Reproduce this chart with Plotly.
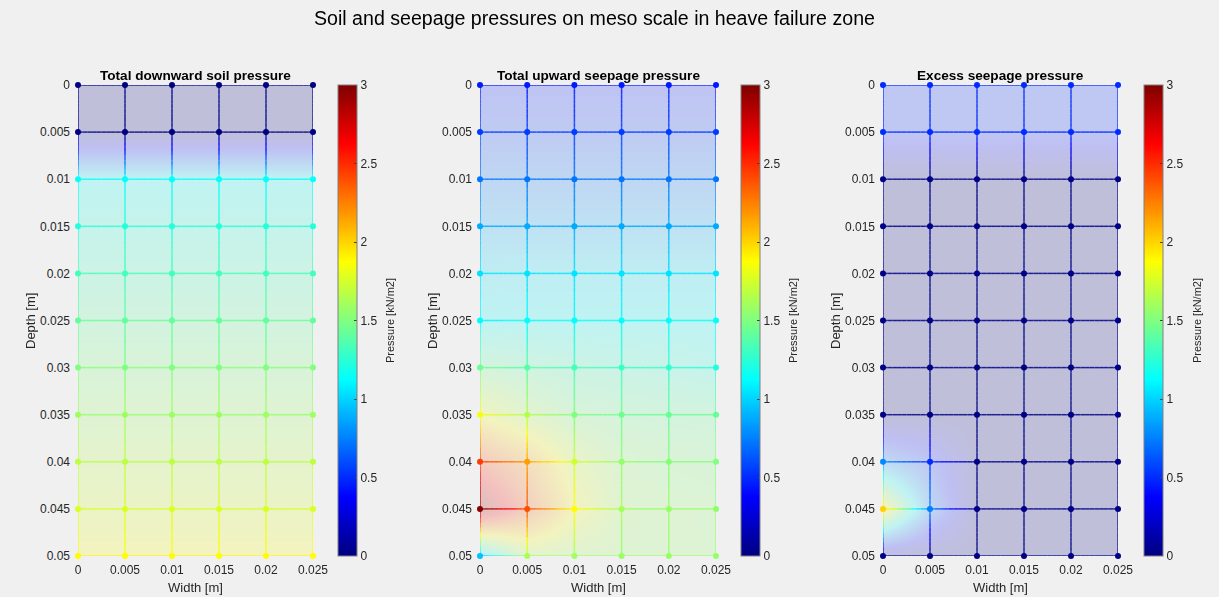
import plotly.graph_objects as go

W, H = 1226, 603

# ---------------- data ----------------
width_m = [0, 0.005, 0.01, 0.015, 0.02, 0.025]
depth_m = [0, 0.005, 0.01, 0.015, 0.02, 0.025, 0.03, 0.035, 0.04, 0.045, 0.05]
width_tick_labels = ["0", "0.005", "0.01", "0.015", "0.02", "0.025"]
depth_tick_labels = ["0", "0.005", "0.01", "0.015", "0.02", "0.025",
                     "0.03", "0.035", "0.04", "0.045", "0.05"]
cbar_ticks = [0, 0.5, 1, 1.5, 2, 2.5, 3]
cbar_tick_labels = ["0", "0.5", "1", "1.5", "2", "2.5", "3"]

# rows = depth, cols = width  (kN/m2)
soil_downward = [
    [0.00, 0.00, 0.00, 0.00, 0.00, 0.00],
    [0.00, 0.00, 0.00, 0.00, 0.00, 0.00],
    [1.14, 1.14, 1.14, 1.14, 1.14, 1.14],
    [1.23, 1.23, 1.23, 1.23, 1.23, 1.23],
    [1.32, 1.32, 1.32, 1.32, 1.32, 1.32],
    [1.41, 1.41, 1.41, 1.41, 1.41, 1.41],
    [1.50, 1.50, 1.50, 1.50, 1.50, 1.50],
    [1.59, 1.59, 1.59, 1.59, 1.59, 1.59],
    [1.68, 1.68, 1.68, 1.68, 1.68, 1.68],
    [1.77, 1.77, 1.77, 1.77, 1.77, 1.77],
    [1.88, 1.88, 1.88, 1.88, 1.88, 1.88],
]
seepage_upward = [
    [0.45, 0.45, 0.45, 0.45, 0.45, 0.45],
    [0.55, 0.55, 0.55, 0.55, 0.55, 0.55],
    [0.72, 0.72, 0.72, 0.72, 0.72, 0.72],
    [0.88, 0.88, 0.88, 0.88, 0.88, 0.88],
    [1.04, 1.05, 1.05, 1.05, 1.05, 1.05],
    [1.12, 1.13, 1.13, 1.13, 1.13, 1.13],
    [1.45, 1.38, 1.33, 1.30, 1.27, 1.22],
    [1.85, 1.65, 1.50, 1.45, 1.43, 1.42],
    [2.45, 2.16, 1.74, 1.56, 1.52, 1.50],
    [2.97, 2.39, 1.88, 1.60, 1.57, 1.55],
    [0.95, 1.63, 1.60, 1.58, 1.57, 1.56],
]
seepage_excess = [
    [0.50, 0.50, 0.50, 0.50, 0.50, 0.50],
    [0.50, 0.50, 0.50, 0.50, 0.50, 0.50],
    [0.02, 0.02, 0.02, 0.02, 0.02, 0.02],
    [0.02, 0.02, 0.02, 0.02, 0.02, 0.02],
    [0.02, 0.02, 0.02, 0.02, 0.02, 0.02],
    [0.02, 0.02, 0.02, 0.02, 0.02, 0.02],
    [0.02, 0.02, 0.02, 0.02, 0.02, 0.02],
    [0.02, 0.02, 0.02, 0.02, 0.02, 0.02],
    [0.78, 0.50, 0.02, 0.02, 0.02, 0.02],
    [2.01, 0.75, 0.02, 0.02, 0.02, 0.02],
    [0.02, 0.02, 0.02, 0.02, 0.02, 0.02],
]
panel_titles = ["Total downward soil pressure", "Total upward seepage pressure",
                "Excess seepage pressure"]
panels = [soil_downward, seepage_upward, seepage_excess]
CMIN, CMAX = 0.0, 3.0

# ---------------- style ----------------
FONT = "Liberation Sans, Arial, sans-serif"
TXT = "#262626"
# pixel geometry of the three axes boxes
ax_px = [(78, 313), (480, 716), (883, 1118)]
ax_top, ax_bot = 85, 556
cb_left = [338, 741, 1144]
cb_title_x = [390, 793, 1197]
ylab_x = [30, 432, 835]


def clamp(v):
    return max(0.0, min(1.0, v))


def jet(t):
    r = clamp(min(4 * t - 1.5, -4 * t + 4.5))
    g = clamp(min(4 * t - 0.5, -4 * t + 3.5))
    b = clamp(min(4 * t + 0.5, -4 * t + 2.5))
    return "rgb(%d,%d,%d)" % (round(r * 255), round(g * 255), round(b * 255))


NCS = 64
jet_scale = [[i / NCS, jet(i / NCS)] for i in range(NCS + 1)]

fig = go.Figure()

# background frame (figure grey)
fig.add_shape(type="rect", xref="paper", yref="paper",
              x0=0, x1=1219 / W, y0=1 - 597 / H, y1=1,
              fillcolor="#f0f0f0", line=dict(width=0), layer="below")

NSUB = 10
for p, vals in enumerate(panels):
    ax = "" if p == 0 else str(p + 1)
    xref, yref = "x" + ax, "y" + ax
    cax = "coloraxis" + ax

    # interpolated translucent fill
    fig.add_trace(go.Heatmap(x=width_m, y=depth_m, z=vals, zsmooth="best",
                             coloraxis=cax, opacity=0.2, hoverinfo="skip",
                             xaxis=xref, yaxis=yref))

    # mesh edges with colour interpolated along each edge
    groups = {}

    def add_edge(xa, ya, va, xb, yb, vb):
        for k in range(NSUB):
            f0, f1 = k / NSUB, (k + 1) / NSUB
            fm = (k + 0.5) / NSUB
            v = va + (vb - va) * fm
            idx = min(NCS - 1, max(0, int((v - CMIN) / (CMAX - CMIN) * NCS)))
            g = groups.setdefault(idx, ([], []))
            g[0].extend([xa + (xb - xa) * f0, xa + (xb - xa) * f1, None])
            g[1].extend([ya + (yb - ya) * f0, ya + (yb - ya) * f1, None])

    for i in range(len(depth_m)):
        for j in range(len(width_m) - 1):
            add_edge(width_m[j], depth_m[i], vals[i][j],
                     width_m[j + 1], depth_m[i], vals[i][j + 1])
    for j in range(len(width_m)):
        for i in range(len(depth_m) - 1):
            add_edge(width_m[j], depth_m[i], vals[i][j],
                     width_m[j], depth_m[i + 1], vals[i + 1][j])
    for idx, (gx, gy) in sorted(groups.items()):
        fig.add_trace(go.Scatter(x=gx, y=gy, mode="lines",
                                 line=dict(color=jet((idx + 0.5) / NCS), width=1.5),
                                 opacity=0.85, hoverinfo="skip", showlegend=False,
                                 cliponaxis=False, xaxis=xref, yaxis=yref))

    # nodes
    nx, ny, nv = [], [], []
    for i, d in enumerate(depth_m):
        for j, w in enumerate(width_m):
            nx.append(w)
            ny.append(d)
            nv.append(vals[i][j])
    fig.add_trace(go.Scatter(x=nx, y=ny, mode="markers",
                             marker=dict(color=nv, coloraxis=cax, size=6, line=dict(width=0)),
                             showlegend=False, cliponaxis=False,
                             xaxis=xref, yaxis=yref))

layout = dict(
    width=W, height=H,
    margin=dict(l=0, r=0, t=0, b=0, pad=0, autoexpand=False),
    paper_bgcolor="white", plot_bgcolor="white",
    font=dict(family=FONT, size=12, color=TXT),
    showlegend=False,
)

annotations = []
for p in range(3):
    ax = "" if p == 0 else str(p + 1)
    x0, x1 = ax_px[p]
    layout["xaxis" + ax] = dict(
        domain=[x0 / W, x1 / W], range=[0, 0.025], anchor="y" + ax,
        tickvals=width_m, ticktext=width_tick_labels, ticks="",
        ticklabelstandoff=5, automargin=False,
        showgrid=False, zeroline=False, showline=False,
        tickfont=dict(size=12, color=TXT, family=FONT))
    layout["yaxis" + ax] = dict(
        domain=[1 - ax_bot / H, 1 - ax_top / H], range=[0.05, 0], anchor="x" + ax,
        tickvals=depth_m, ticktext=depth_tick_labels, ticks="",
        ticklabelstandoff=7, automargin=False,
        showgrid=False, zeroline=False, showline=False,
        tickfont=dict(size=12, color=TXT, family=FONT))
    layout["coloraxis" + ax] = dict(
        colorscale=jet_scale, cmin=CMIN, cmax=CMAX,
        colorbar=dict(
            x=cb_left[p] / W, xanchor="left", xpad=0, ypad=0,
            y=1 - ax_top / H, yanchor="top",
            len=ax_bot - ax_top, lenmode="pixels",
            thickness=19, thicknessmode="pixels",
            outlinecolor="#808080", outlinewidth=1,
            tickvals=cbar_ticks, ticktext=cbar_tick_labels,
            ticks="inside", ticklen=3, tickcolor="#404040",
            tickfont=dict(size=12, color=TXT, family=FONT)))
    cx = (x0 + x1) / 2
    annotations.append(dict(text="<b>" + panel_titles[p] + "</b>", x=cx / W, y=1 - 75 / H,
                            xref="paper", yref="paper", showarrow=False,
                            xanchor="center", yanchor="middle",
                            font=dict(size=13.6, color="black", family=FONT)))
    annotations.append(dict(text="Width [m]", x=cx / W, y=1 - 587 / H,
                            xref="paper", yref="paper", showarrow=False,
                            xanchor="center", yanchor="middle",
                            font=dict(size=13, color=TXT, family=FONT)))
    annotations.append(dict(text="Depth [m]", x=ylab_x[p] / W, y=1 - 321 / H,
                            xref="paper", yref="paper", showarrow=False, textangle=-90,
                            xanchor="center", yanchor="middle",
                            font=dict(size=13, color=TXT, family=FONT)))
    annotations.append(dict(text="Pressure [kN/m2]", x=cb_title_x[p] / W, y=1 - 321 / H,
                            xref="paper", yref="paper", showarrow=False, textangle=-90,
                            xanchor="center", yanchor="middle",
                            font=dict(size=11, color=TXT, family=FONT)))

annotations.append(dict(text="Soil and seepage pressures on meso scale in heave failure zone",
                        x=594 / W, y=1 - 18 / H, xref="paper", yref="paper",
                        showarrow=False, xanchor="center", yanchor="middle",
                        font=dict(size=19.6, color="black", family=FONT)))
layout["annotations"] = annotations

fig.update_layout(**layout)
fig.write_html("out.html")
